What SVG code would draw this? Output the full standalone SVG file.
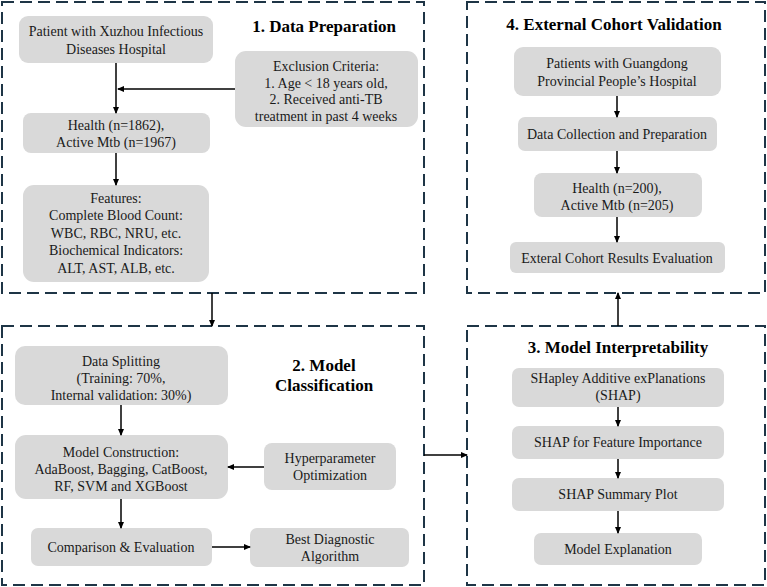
<svg xmlns="http://www.w3.org/2000/svg" width="767" height="587" viewBox="0 0 767 587">
<defs>
<marker id="ah" markerWidth="7" markerHeight="6" refX="6" refY="3" orient="auto" markerUnits="userSpaceOnUse">
<path d="M0,0 L7,3 L0,6 z" fill="#000"/>
</marker>
<style>
.panel{fill:none;stroke:#1e3546;stroke-width:2;stroke-dasharray:12 6;}
.box{fill:#d9d9d9;}
.t{font-family:"Liberation Serif","Times New Roman",serif;font-size:14px;fill:#1a1a1a;text-anchor:middle;}
.h{font-family:"Liberation Serif","Times New Roman",serif;font-size:17px;font-weight:bold;fill:#000;text-anchor:middle;}
.c{fill:none;stroke:#000;stroke-width:1.5;marker-end:url(#ah);}
.cl{fill:none;stroke:#000;stroke-width:1.5;}
</style>
</defs>
<rect width="767" height="587" fill="#fff"/>

<g id="panel1">
<rect class="panel" x="2" y="2" width="422" height="291"/>
<text class="h" x="324" y="32">1. Data Preparation</text>
</g>
<g id="panel4">
<rect class="panel" x="467" y="2" width="298" height="291"/>
<text class="h" x="614" y="30">4. External Cohort Validation</text>
</g>
<g id="panel2">
<rect class="panel" x="2" y="326" width="422" height="259"/>
<text class="h" x="324" y="371">2. Model</text>
<text class="h" x="324" y="391">Classification</text>
</g>
<g id="panel3">
<rect class="panel" x="467" y="326" width="298" height="259"/>
<text class="h" x="618" y="353">3. Model Interpretability</text>
</g>

<g id="n_patient">
<rect class="box" x="19" y="16" width="194" height="47" rx="9"/>
<text class="t" x="116" y="36">Patient with Xuzhou Infectious</text>
<text class="t" x="116" y="54">Diseases Hospital</text>
</g>
<g id="n_exclusion">
<rect class="box" x="235" y="51" width="183" height="76" rx="11"/>
<text class="t" x="326" y="71">Exclusion Criteria:</text>
<text class="t" x="326" y="88">1. Age &lt; 18 years old,</text>
<text class="t" x="326" y="104">2. Received anti-TB</text>
<text class="t" x="326" y="121">treatment in past 4 weeks</text>
</g>
<g id="n_health1">
<rect class="box" x="23" y="113" width="187" height="40" rx="8"/>
<text class="t" x="116" y="130">Health (n=1862),</text>
<text class="t" x="116" y="147">Active Mtb (n=1967)</text>
</g>
<g id="n_features">
<rect class="box" x="23" y="185" width="186" height="97" rx="11"/>
<text class="t" x="116" y="203">Features:</text>
<text class="t" x="116" y="220">Complete Blood Count:</text>
<text class="t" x="116" y="238">WBC, RBC, NRU, etc.</text>
<text class="t" x="116" y="255">Biochemical Indicators:</text>
<text class="t" x="116" y="273">ALT, AST, ALB, etc.</text>
</g>

<g id="n_guangdong">
<rect class="box" x="514" y="47" width="207" height="49" rx="9"/>
<text class="t" x="617" y="68">Patients with Guangdong</text>
<text class="t" x="617" y="86">Provincial People’s Hospital</text>
</g>
<g id="n_collection">
<rect class="box" x="518" y="117" width="199" height="34" rx="7"/>
<text class="t" x="617" y="139">Data Collection and Preparation</text>
</g>
<g id="n_health2">
<rect class="box" x="534" y="173" width="168" height="44" rx="8"/>
<text class="t" x="617" y="193">Health (n=200),</text>
<text class="t" x="617" y="210">Active Mtb (n=205)</text>
</g>
<g id="n_external">
<rect class="box" x="510" y="242" width="215" height="31" rx="6"/>
<text class="t" x="617" y="263">Exteral Cohort Results Evaluation</text>
</g>

<g id="n_split">
<rect class="box" x="15" y="346" width="213" height="59" rx="10"/>
<text class="t" x="121" y="366">Data Splitting</text>
<text class="t" x="121" y="383">(Training: 70%,</text>
<text class="t" x="121" y="400">Internal validation: 30%)</text>
</g>
<g id="n_construction">
<rect class="box" x="15" y="435" width="213" height="64" rx="11"/>
<text class="t" x="121" y="457">Model Construction:</text>
<text class="t" x="121" y="474">AdaBoost, Bagging, CatBoost,</text>
<text class="t" x="121" y="491">RF, SVM and XGBoost</text>
</g>
<g id="n_hyper">
<rect class="box" x="264" y="443" width="132" height="47" rx="8"/>
<text class="t" x="330" y="463">Hyperparameter</text>
<text class="t" x="330" y="480">Optimization</text>
</g>
<g id="n_compare">
<rect class="box" x="31" y="528" width="181" height="38" rx="7"/>
<text class="t" x="121" y="552">Comparison &amp; Evaluation</text>
</g>
<g id="n_best">
<rect class="box" x="250" y="528" width="159" height="39" rx="7"/>
<text class="t" x="330" y="544">Best Diagnostic</text>
<text class="t" x="330" y="561">Algorithm</text>
</g>

<g id="n_shapley">
<rect class="box" x="512" y="368" width="212" height="39" rx="7"/>
<text class="t" x="618" y="383">SHapley Additive exPlanations</text>
<text class="t" x="618" y="400">(SHAP)</text>
</g>
<g id="n_importance">
<rect class="box" x="512" y="426" width="212" height="33" rx="7"/>
<text class="t" x="618" y="447">SHAP for Feature Importance</text>
</g>
<g id="n_summary">
<rect class="box" x="512" y="478" width="212" height="33" rx="7"/>
<text class="t" x="618" y="499">SHAP Summary Plot</text>
</g>
<g id="n_explanation">
<rect class="box" x="534" y="533" width="168" height="32" rx="7"/>
<text class="t" x="618" y="554">Model Explanation</text>
</g>

<g id="connectors">
<path class="c" d="M116,63 V113"/>
<path class="c" d="M235,89 H118"/>
<path class="c" d="M116,153 V185"/>
<path class="c" d="M212,293 V326"/>
<path class="c" d="M121,405 V435"/>
<path class="c" d="M264,467 H228"/>
<path class="c" d="M121,499 V528"/>
<path class="c" d="M212,547 H250"/>
<path class="c" d="M424,455 H467"/>
<path class="c" d="M618,407 V426"/>
<path class="c" d="M618,459 V478"/>
<path class="c" d="M618,511 V533"/>
<path class="c" d="M618,326 V293"/>
<path class="c" d="M617,96 V117"/>
<path class="c" d="M617,151 V173"/>
<path class="c" d="M617,217 V242"/>
</g>
</svg>
